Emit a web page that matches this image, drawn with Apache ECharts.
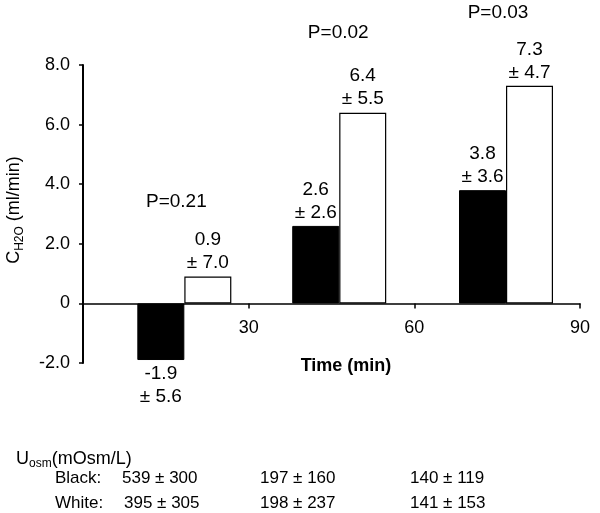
<!DOCTYPE html>
<html><head><meta charset="utf-8">
<script src="https://cdn.jsdelivr.net/npm/echarts@6/dist/echarts.min.js"></script>
<style>html,body{margin:0;padding:0;background:#fff}#c{width:600px;height:513px}</style>
</head><body><div id="c"></div>
<script>
// ---- data ----
const groupTimes = [18.35, 46.4, 76.6];          // time (min) at the shared edge of each bar pair
const blackMeans = [-1.9, 2.6, 3.8];
const blackSDs   = [5.6, 2.6, 3.6];
const whiteMeans = [0.9, 6.4, 7.3];
const whiteSDs   = [7.0, 5.5, 4.7];
const pValues    = ['P=0.21', 'P=0.02', 'P=0.03'];
const xTicks     = [0, 30, 60, 90];
const yTicks     = [-2, 0, 2, 4, 6, 8];
const yTickLabels = ['-2.0', '0', '2.0', '4.0', '6.0', '8.0'];
const uosmBlack  = ['539 ± 300', '197 ± 160', '140 ± 119'];
const uosmWhite  = ['395 ± 305', '198 ± 237', '141 ± 153'];

const FONT = 'Liberation Sans, Arial, sans-serif';
const chart = echarts.init(document.getElementById('c'), null, {renderer: 'canvas'});

function labelFor(means, sds) {
  return {
    show: true,
    position: 'outside',
    distance: 2,
    formatter: p => means[p.dataIndex].toFixed(1) + '\n± ' + sds[p.dataIndex].toFixed(1),
    fontSize: 19, lineHeight: 23, color: '#000', fontFamily: FONT
  };
}

chart.setOption({
  animation: false,
  backgroundColor: '#fff',
  grid: {left: 83, right: 20, top: 65, height: 298},
  xAxis: {
    type: 'value', min: xTicks[0], max: xTicks[xTicks.length - 1], interval: 30,
    axisLine: {show: true, onZero: true, lineStyle: {color: '#000', width: 1.5}},
    axisTick: {show: true, length: 5, lineStyle: {color: '#000', width: 1.5}},
    axisLabel: {color: '#000', fontSize: 18, fontFamily: FONT, margin: -44,
      formatter: v => (v === 0 ? '' : String(v))},
    splitLine: {show: false}
  },
  yAxis: {
    type: 'value', min: yTicks[0], max: yTicks[yTicks.length - 1], interval: 2,
    axisLine: {show: true, onZero: false, lineStyle: {color: '#000', width: 2}},
    axisTick: {show: true, length: 4, lineStyle: {color: '#000', width: 1.5}},
    axisLabel: {color: '#000', fontSize: 18, fontFamily: FONT, margin: 13,
      formatter: v => yTickLabels[yTicks.indexOf(v)]},
    splitLine: {show: false}
  },
  series: [
    {
      name: 'Black', type: 'bar', barWidth: 47, barGap: 0,
      data: groupTimes.map((t, i) => [t, blackMeans[i]]),
      itemStyle: {color: '#000', borderColor: '#000', borderWidth: 1},
      label: labelFor(blackMeans, blackSDs), z: 3
    },
    {
      name: 'White', type: 'bar', barWidth: 47, barGap: 0,
      data: groupTimes.map((t, i) => [t, whiteMeans[i]]),
      itemStyle: {color: '#fff', borderColor: '#000', borderWidth: 1.2},
      label: labelFor(whiteMeans, whiteSDs), z: 2
    }
  ]
});

// ---- annotations ----
const pY = [202, 33, 13];
const pOffset = [-8, -1, -8];
const g = [];
groupTimes.forEach((t, i) => {
  const px = chart.convertToPixel({gridIndex: 0}, [t, 0])[0];
  g.push({type: 'text', x: px + pOffset[i], y: pY[i], silent: true,
    style: {text: pValues[i], fill: '#000', font: '19px ' + FONT, align: 'center', verticalAlign: 'middle'}});
});
// y axis title
g.push({type: 'text', x: 14, y: 210, rotation: Math.PI / 2, silent: true,
  style: {text: '{n|C}{s|H2O}{n| (ml/min)}', align: 'center', verticalAlign: 'middle',
    rich: {n: {fontSize: 18, fontFamily: FONT, fill: '#000', lineHeight: 24, verticalAlign: 'middle'},
           s: {fontSize: 12, fontFamily: FONT, fill: '#000', lineHeight: 12, verticalAlign: 'bottom'}}}});
// x axis title
g.push({type: 'text', x: 346, y: 366, silent: true,
  style: {text: 'Time (min)', fill: '#000', font: 'bold 18px ' + FONT, align: 'center', verticalAlign: 'middle'}});
// Uosm table
g.push({type: 'text', x: 16, y: 459, silent: true,
  style: {text: '{n|U}{s|osm}{n|(mOsm/L)}', align: 'left', verticalAlign: 'middle',
    rich: {n: {fontSize: 18, fontFamily: FONT, fill: '#000', lineHeight: 22, verticalAlign: 'middle'},
           s: {fontSize: 12, fontFamily: FONT, fill: '#000', lineHeight: 12, verticalAlign: 'bottom'}}}});
const rowY = [478, 503];
const rowNames = ['Black:', 'White:'];
const rowVals = [uosmBlack, uosmWhite];
const colX = [[122, 260, 410], [124, 260, 410]];
rowNames.forEach((nm, r) => {
  g.push({type: 'text', x: 55, y: rowY[r], silent: true,
    style: {text: nm, fill: '#000', font: '17px ' + FONT, align: 'left', verticalAlign: 'middle'}});
  rowVals[r].forEach((v, c) => {
    g.push({type: 'text', x: colX[r][c], y: rowY[r], silent: true,
      style: {text: v, fill: '#000', font: '17px ' + FONT, align: 'left', verticalAlign: 'middle'}});
  });
});
chart.setOption({graphic: g});
</script>
</body></html>
